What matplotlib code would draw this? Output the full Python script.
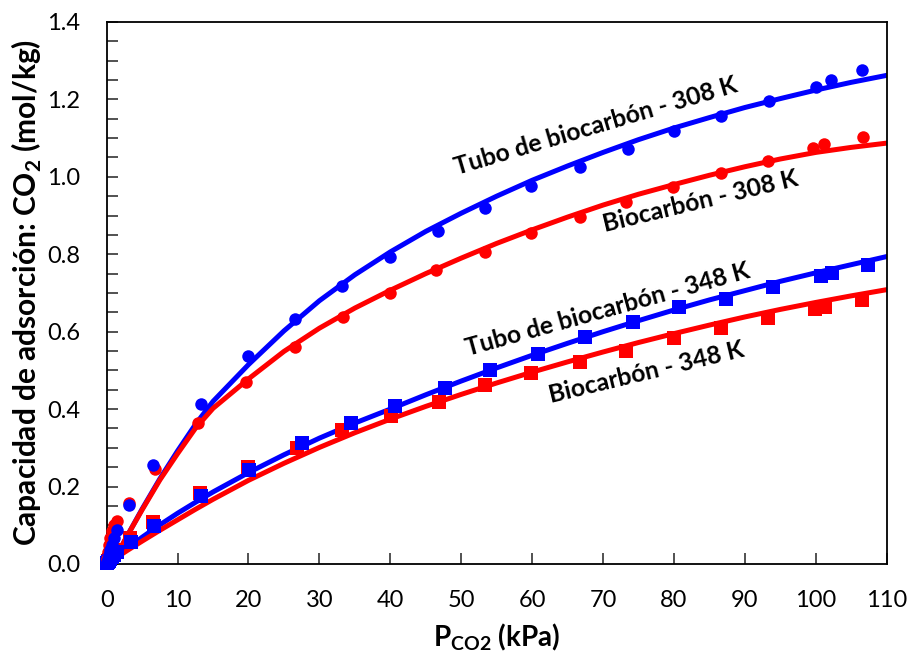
import matplotlib
matplotlib.use("Agg")
import matplotlib.pyplot as plt
from matplotlib.ticker import MultipleLocator, FormatStrFormatter

plt.rcParams["font.family"] = ["Lato", "DejaVu Sans"]
plt.rcParams["mathtext.fontset"] = "custom"
plt.rcParams["mathtext.rm"] = "Lato"
plt.rcParams["mathtext.bf"] = "Lato:bold"

BLUE = "#0000FF"
RED = "#FF0000"

# measured isotherms (P in kPa, q in mol/kg)
tubo308_p = [0.05, 0.15, 0.3, 0.5, 0.8, 1.1, 1.4, 3.2, 6.5, 13.3, 19.9, 26.6, 33.2, 40.0, 46.7,
             53.3, 59.9, 66.7, 73.5, 80.0, 86.7, 93.4, 100.0, 102.1, 106.5]
tubo308_q = [0.004, 0.012, 0.022, 0.035, 0.05, 0.068, 0.088, 0.152, 0.256, 0.413, 0.536, 0.633, 0.718,
             0.792, 0.859, 0.92, 0.977, 1.026, 1.072, 1.119, 1.157, 1.196, 1.232, 1.25, 1.276]

bio308_p = [0.05, 0.15, 0.3, 0.5, 0.8, 1.1, 1.5, 3.2, 6.8, 12.9, 19.7, 26.5, 33.3, 39.9, 46.5,
            53.3, 59.9, 66.7, 73.2, 79.8, 86.6, 93.2, 99.6, 101.1, 106.6]
bio308_q = [0.012, 0.03, 0.05, 0.068, 0.085, 0.1, 0.11, 0.157, 0.245, 0.364, 0.471, 0.561, 0.639,
            0.701, 0.76, 0.806, 0.855, 0.896, 0.935, 0.974, 1.010, 1.041, 1.075, 1.085, 1.103]

tubo348_p = [0.05, 0.15, 0.3, 0.5, 0.8, 1.1, 1.5, 3.5, 6.7, 13.3, 20.1, 27.6, 34.5, 40.7, 47.7,
             54.0, 60.8, 67.4, 74.2, 80.7, 87.4, 93.9, 100.7, 102.3, 107.3]
tubo348_q = [0.002, 0.005, 0.008, 0.012, 0.018, 0.024, 0.03, 0.056, 0.098, 0.176, 0.243, 0.312, 0.364,
             0.408, 0.455, 0.501, 0.542, 0.587, 0.625, 0.664, 0.684, 0.716, 0.744, 0.751, 0.772]

bio348_p = [0.05, 0.15, 0.3, 0.5, 0.8, 1.1, 1.5, 3.3, 6.5, 13.1, 20.0, 26.8, 33.2, 40.1, 46.8,
            53.3, 59.9, 66.7, 73.3, 80.0, 86.7, 93.2, 99.9, 101.3, 106.5]
bio348_q = [0.003, 0.007, 0.011, 0.016, 0.022, 0.03, 0.036, 0.066, 0.109, 0.183, 0.25, 0.30, 0.346,
            0.382, 0.418, 0.462, 0.493, 0.522, 0.55, 0.584, 0.61, 0.636, 0.659, 0.664, 0.682]

# fitted model curves, sampled
fit_p = [0, 1, 2, 3, 5, 7.5, 10, 12.5, 15, 20, 25, 30, 35, 40, 45, 50, 55, 60, 65, 70, 75,
         80, 85, 90, 95, 100, 105, 110]
fit_tubo308 = [0, 0.012, 0.042, 0.076, 0.142, 0.22, 0.292, 0.36, 0.42, 0.515, 0.602, 0.68, 0.747,
               0.806, 0.859, 0.906, 0.95, 0.991, 1.028, 1.063, 1.096, 1.126, 1.153, 1.179, 1.202,
               1.224, 1.244, 1.262]
fit_bio308 = [0, 0.012, 0.042, 0.076, 0.14, 0.217, 0.285, 0.35, 0.402, 0.478, 0.549, 0.609, 0.661,
              0.707, 0.75, 0.79, 0.828, 0.863, 0.896, 0.927, 0.955, 0.98, 1.004, 1.026, 1.046,
              1.063, 1.076, 1.087]
fit_tubo348 = [0, 0.014, 0.028, 0.042, 0.069, 0.101, 0.131, 0.159, 0.186, 0.236, 0.282, 0.325, 0.364,
               0.40, 0.437, 0.4725, 0.5065, 0.539, 0.57, 0.60, 0.6285, 0.656, 0.682, 0.706, 0.73,
               0.752, 0.773, 0.794]
fit_bio348 = [0, 0.012, 0.024, 0.036, 0.059, 0.087, 0.114, 0.141, 0.167, 0.216, 0.26, 0.301, 0.339,
              0.374, 0.407, 0.438, 0.4675, 0.4955, 0.522, 0.5475, 0.572, 0.595, 0.617, 0.638, 0.6575,
              0.6755, 0.6925, 0.7085]

labels = ["Tubo de biocarbón - 308 K", "Biocarbón - 308 K",
          "Tubo de biocarbón - 348 K", "Biocarbón - 348 K"]

fig = plt.figure(figsize=(9.11, 6.57), dpi=100)
ax = fig.add_axes([0.1171, 0.1416, 0.8562, 0.8250])

line_kw = dict(lw=3.6, solid_joinstyle="round", solid_capstyle="round", zorder=2)
ax.plot(fit_p, fit_tubo348, color=BLUE, **line_kw)
ax.plot(fit_p, fit_bio348, color=RED, **line_kw)
ax.plot(fit_p, fit_tubo308, color=BLUE, **line_kw)
ax.plot(fit_p, fit_bio308, color=RED, **line_kw)

# markers near P = 0 spill over the axis frame
marker_kw = dict(mew=0, zorder=3, clip_on=False)
ax.plot(bio348_p, bio348_q, "s", color=RED, ms=10, **marker_kw)
ax.plot(tubo348_p, tubo348_q, "s", color=BLUE, ms=10, **marker_kw)
ax.plot(bio308_p, bio308_q, "o", color=RED, ms=9, **marker_kw)
ax.plot(tubo308_p, tubo308_q, "o", color=BLUE, ms=9, **marker_kw)

text_kw = dict(fontsize=17.8, fontweight="bold", ha="center", va="center",
               rotation_mode="anchor", zorder=4)
ax.text(69.0, 1.132, labels[0], rotation=16.5, **text_kw)
ax.text(83.7, 0.936, labels[1], rotation=13.5, **text_kw)
ax.text(70.7, 0.656, labels[2], rotation=15.5, **text_kw)
ax.text(76.1, 0.494, labels[3], rotation=13.5, **text_kw)

ax.set_xlim(0, 110)
ax.set_ylim(0, 1.4)
ax.xaxis.set_major_locator(MultipleLocator(10))
ax.yaxis.set_major_locator(MultipleLocator(0.2))
ax.yaxis.set_minor_locator(MultipleLocator(0.05))
ax.yaxis.set_major_formatter(FormatStrFormatter("%.1f"))
ax.tick_params(axis="both", which="both", direction="in", length=8, width=1.2,
               labelsize=17, color="#333333")
ax.tick_params(axis="y", which="both", right=False, pad=19)
ax.tick_params(axis="x", which="both", top=False, pad=19)
for spine in ax.spines.values():
    spine.set_linewidth(1.3)
    spine.set_color("black")

ax.set_xlabel(r"P$_{\mathbf{CO2}}$ (kPa)", fontsize=20, fontweight="bold", labelpad=7)
ax.set_ylabel(r"Capacidad de adsorción: CO$_{\mathbf{2}}$ (mol/kg)", fontsize=21.5,
              fontweight="bold", labelpad=2)

fig.savefig("out.png", dpi=100)
